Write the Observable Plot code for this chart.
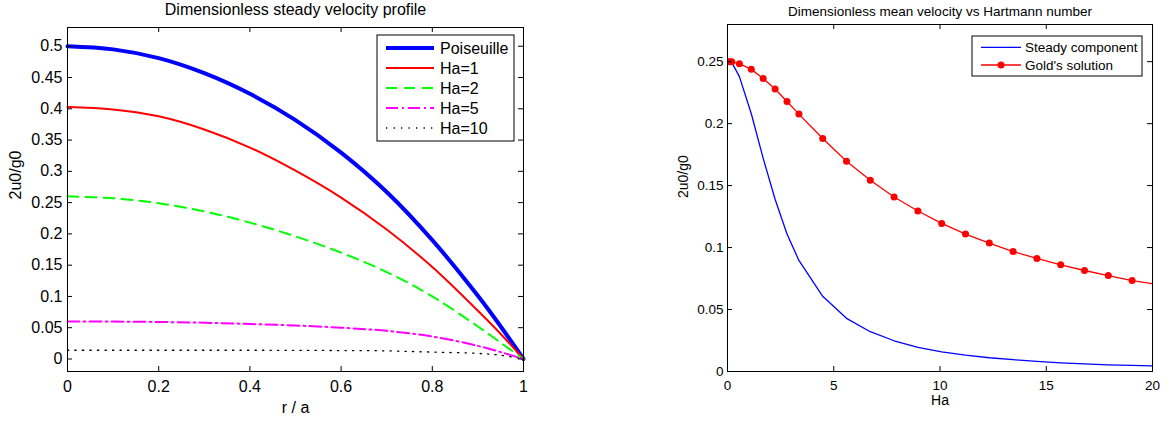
<!DOCTYPE html>
<html>
<head>
<meta charset="utf-8">
<script src="https://cdn.jsdelivr.net/npm/d3@7"></script>
<script src="https://cdn.jsdelivr.net/npm/@observablehq/plot@0.6"></script>
<style>
  body { margin: 0; background: #fff; }
  #wrap { position: relative; width: 1173px; height: 421px; overflow: hidden; }
  .panel { position: absolute; top: 0; }
</style>
</head>
<body>
<div id="wrap">
  <div class="panel" id="left" style="left:0;width:586px"></div>
  <div class="panel" id="right" style="left:586px;width:587px"></div>
</div>
<script>
// ---- Velocity profiles across the pipe radius ----
const profileR = [0, 0.1, 0.2, 0.3, 0.4, 0.5, 0.6, 0.7, 0.8, 0.9, 0.95, 1];
const poiseuilleU = [0.500, 0.495, 0.481, 0.457, 0.424, 0.382, 0.330, 0.267, 0.190, 0.101, 0.052, 0];
const ha1U  = [0.403, 0.399, 0.388, 0.367, 0.338, 0.301, 0.258, 0.207, 0.147, 0.077, 0.040, 0];
const ha2U  = [0.260, 0.257, 0.249, 0.236, 0.218, 0.196, 0.170, 0.139, 0.100, 0.052, 0.026, 0];
const ha5U  = [0.060, 0.0598, 0.0592, 0.058, 0.056, 0.0535, 0.050, 0.045, 0.036, 0.021, 0.011, 0];
const ha10U = [0.014, 0.014, 0.014, 0.014, 0.014, 0.0138, 0.0135, 0.013, 0.011, 0.009, 0.006, 0];
const profileNames = ["Poiseuille", "Ha=1", "Ha=2", "Ha=5", "Ha=10"];

const rTicks = [0, 0.2, 0.4, 0.6, 0.8, 1];
const rTickLabels = ["0", "0.2", "0.4", "0.6", "0.8", "1"];
const uTicks = [0, 0.05, 0.1, 0.15, 0.2, 0.25, 0.3, 0.35, 0.4, 0.45, 0.5];
const uTickLabels = ["0", "0.05", "0.1", "0.15", "0.2", "0.25", "0.3", "0.35", "0.4", "0.45", "0.5"];

// ---- Mean velocity against Hartmann number ----
const hartmann = [0, 0.1, 0.2, 0.56, 1.12, 1.68, 2.24, 2.80, 3.36, 4.48, 5.60, 6.72, 7.84, 8.96,
                  10.08, 11.2, 12.32, 13.44, 14.56, 15.68, 16.8, 17.92, 19.04, 20.16];
const steadyU = [0.2500, 0.2499, 0.2494, 0.2379, 0.2080, 0.1720, 0.1390, 0.1110, 0.0896, 0.0607,
                 0.0429, 0.0321, 0.0248, 0.0194, 0.0159, 0.0132, 0.0111, 0.0095, 0.0081, 0.0070,
                 0.0062, 0.0054, 0.0049, 0.0044];
const goldU = [0.2500, 0.2500, 0.2499, 0.2484, 0.2438, 0.2365, 0.2279, 0.2179, 0.2077, 0.1880,
               0.1697, 0.1543, 0.1408, 0.1295, 0.1195, 0.1109, 0.1036, 0.0968, 0.0912, 0.0861,
               0.0815, 0.0774, 0.0734, 0.0704];
const meanNames = ["Steady component", "Gold's solution"];

const haTicks = [0, 5, 10, 15, 20];
const haTickLabels = ["0", "5", "10", "15", "20"];
const mTicks = [0, 0.05, 0.1, 0.15, 0.2, 0.25];
const mTickLabels = ["0", "0.05", "0.1", "0.15", "0.2", "0.25"];

// Line styles for each profile
const profileStyles = [
  {stroke: "#0000ff", strokeWidth: 4},
  {stroke: "#ff0000", strokeWidth: 2},
  {stroke: "#00ff00", strokeWidth: 2, strokeDasharray: "11,7"},
  {stroke: "#ff00ff", strokeWidth: 2, strokeDasharray: "12,4,2,4"},
  {stroke: "#000000", strokeWidth: 1.3, strokeDasharray: "1.3,6.2"}
];

const FONT = "'Liberation Sans', Arial, Helvetica, sans-serif";
const labelMap = (ticks, labels) => { const m = new Map(ticks.map((t, i) => [t, labels[i]])); return d => m.get(d); };

function legend(svg, box, rows, o) {
  const g = d3.select(svg).append("g").attr("font-size", o.fontSize).attr("font-family", FONT)
    .attr("text-anchor", "start");
  g.append("rect").attr("x", box.x).attr("y", box.y).attr("width", box.w).attr("height", box.h)
    .attr("fill", "white").attr("stroke", "black").attr("stroke-width", 1);
  rows.forEach((row, i) => {
    const y = o.y0 + i * o.step;
    g.append("line").attr("x1", o.x1).attr("x2", o.x2).attr("y1", y).attr("y2", y)
      .attr("stroke", row.stroke).attr("stroke-width", row.strokeWidth)
      .attr("stroke-dasharray", row.strokeDasharray || null);
    if (row.marker) g.append("circle").attr("cx", (o.x1 + o.x2) / 2).attr("cy", y).attr("r", row.marker).attr("fill", row.stroke);
    g.append("text").attr("x", o.tx).attr("y", y).attr("dy", "0.35em").attr("fill", "black").text(row.name);
  });
}

// ---- Left chart ----
const profiles = [poiseuilleU, ha1U, ha2U, ha5U, ha10U];
const leftW = 586, leftH = 421, lML = 67, lMR = 63, lMT = 27, lMB = 50;
const lFW = leftW - lML - lMR, lFH = leftH - lMT - lMB;

const leftPlot = Plot.plot({
  width: leftW, height: leftH,
  marginLeft: lML, marginRight: lMR, marginTop: lMT, marginBottom: lMB,
  style: {fontFamily: FONT, fontSize: "16px", color: "black", background: "white", overflow: "visible"},
  x: {domain: [0, 1]},
  y: {domain: [-0.02, 0.53]},
  marks: [
    ...profiles.map((vals, k) => Plot.line(profileR.map((r, i) => ({r, u: vals[i]})),
      {x: "r", y: "u", curve: "catmull-rom", ...profileStyles[k]})),
    Plot.frame({stroke: "black", strokeWidth: 1}),
    Plot.tickX(rTicks, {x: d => d, stroke: "black", insetTop: lFH - 5}),
    Plot.tickX(rTicks, {x: d => d, stroke: "black", insetBottom: lFH - 5}),
    Plot.tickY(uTicks, {y: d => d, stroke: "black", insetRight: lFW - 5}),
    Plot.tickY(uTicks, {y: d => d, stroke: "black", insetLeft: lFW - 5}),
    Plot.axisX(rTicks, {anchor: "bottom", tickSize: 0, tickPadding: 9, tickFormat: labelMap(rTicks, rTickLabels), label: null}),
    Plot.axisY(uTicks, {anchor: "left", tickSize: 0, tickPadding: 5, tickFormat: labelMap(uTicks, uTickLabels), label: null}),
    Plot.text(["Dimensionless steady velocity profile"], {frameAnchor: "top", dy: -12.5, lineAnchor: "bottom", fontSize: 16}),
    Plot.text(["r / a"], {frameAnchor: "bottom", dy: 41, lineAnchor: "bottom", fontSize: 16}),
    Plot.text(["2u0/g0"], {frameAnchor: "left", dx: -52, rotate: -90, fontSize: 16})
  ]
});
document.getElementById("left").appendChild(leftPlot);
legend(leftPlot, {x: 377, y: 35, w: 137, h: 106},
  profileNames.map((name, k) => ({name, ...profileStyles[k]})),
  {fontSize: 16, y0: 48, step: 20, x1: 386, x2: 434, tx: 440});

// ---- Right chart ----
const rightW = 587, rightH = 421, rML = 141, rMR = 21, rMT = 24, rMB = 50;
const rFW = rightW - rML - rMR, rFH = rightH - rMT - rMB;
const meanRows = hartmann.map((h, i) => ({h, steady: steadyU[i], gold: goldU[i]}));
const meanStyles = [
  {stroke: "#0000ff", strokeWidth: 1.3},
  {stroke: "#ff0000", strokeWidth: 1.3, marker: 3.5}
];

const rightPlot = Plot.plot({
  width: rightW, height: rightH,
  marginLeft: rML, marginRight: rMR, marginTop: rMT, marginBottom: rMB,
  style: {fontFamily: FONT, fontSize: "13.5px", color: "black", background: "white", overflow: "visible"},
  x: {domain: [0, 20]},
  y: {domain: [0, 0.28]},
  marks: [
    Plot.line(meanRows, {x: "h", y: "steady", stroke: meanStyles[0].stroke, strokeWidth: meanStyles[0].strokeWidth, clip: true}),
    Plot.line(meanRows, {x: "h", y: "gold", stroke: meanStyles[1].stroke, strokeWidth: meanStyles[1].strokeWidth, clip: true}),
    Plot.dot(meanRows, {x: "h", y: "gold", r: meanStyles[1].marker, fill: meanStyles[1].stroke, clip: true}),
    Plot.frame({stroke: "black", strokeWidth: 1}),
    Plot.tickX(haTicks, {x: d => d, stroke: "black", insetTop: rFH - 5}),
    Plot.tickX(haTicks, {x: d => d, stroke: "black", insetBottom: rFH - 5}),
    Plot.tickY(mTicks, {y: d => d, stroke: "black", insetRight: rFW - 5}),
    Plot.tickY(mTicks, {y: d => d, stroke: "black", insetLeft: rFW - 5}),
    Plot.axisX(haTicks, {anchor: "bottom", tickSize: 0, tickPadding: 9, tickFormat: labelMap(haTicks, haTickLabels), label: null}),
    Plot.axisY(mTicks, {anchor: "left", tickSize: 0, tickPadding: 4, tickFormat: labelMap(mTicks, mTickLabels), label: null}),
    Plot.text(["Dimensionless mean velocity vs Hartmann number"], {frameAnchor: "top", dy: -9, lineAnchor: "bottom", fontSize: 13.5}),
    Plot.text(["Ha"], {frameAnchor: "bottom", dy: 33, lineAnchor: "bottom", fontSize: 14}),
    Plot.text(["2u0/g0"], {frameAnchor: "left", dx: -44, rotate: -90, fontSize: 14})
  ]
});
document.getElementById("right").appendChild(rightPlot);
legend(rightPlot, {x: 386, y: 36, w: 170, h: 40},
  meanNames.map((name, k) => ({name, ...meanStyles[k]})),
  {fontSize: 13.5, y0: 47.3, step: 17.7, x1: 395, x2: 435, tx: 439});
</script>
</body>
</html>
